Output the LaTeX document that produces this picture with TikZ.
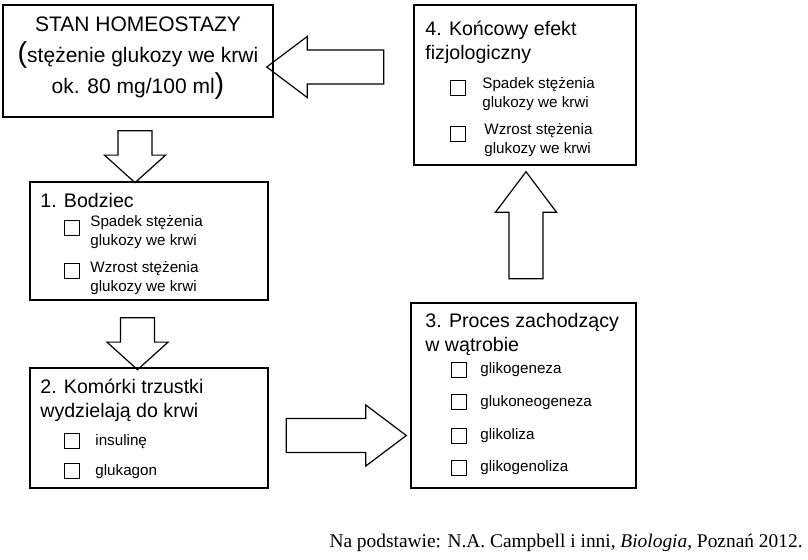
\documentclass[tikz,border=0pt]{standalone}
\usepackage{fontspec}
\setmainfont{Liberation Sans}
\newfontfamily\citefont{Liberation Serif}
\usetikzlibrary{shapes.arrows}
\usetikzlibrary{positioning}

\tikzset{
  box/.style = {draw,line width=0.6pt},
  bigtxt/.style = {inner sep=0pt,font=\fontsize{9.8}{12}\selectfont,align=left},
  smalltxt/.style = {inner sep=0pt,font=\fontsize{7.6}{9.3}\selectfont,align=left,anchor=west},
  chk/.style = {draw,line width=0.5pt,minimum size=7.2pt,inner sep=0pt},
  blk/.style = {single arrow,draw,line width=0.6pt,inner sep=8.2pt,
                single arrow tip angle=74,single arrow head extend=6.8pt}
}

\begin{document}
\begin{tikzpicture}[x=0.5pt,y=-0.5pt]
\useasboundingbox (0,0) rectangle (808,559);

% ramki
\draw[box,line width=1.4pt] (3,5) rectangle (273,117);
\draw[box] (414,5) rectangle (636,165);
\draw[box] (30,182) rectangle (268,300);
\draw[box] (30,368) rectangle (268,488);
\draw[box] (411,303) rectangle (636,488);

% stan homeostazy
\node[bigtxt,font=\fontsize{10.5}{13}\selectfont] (stan) at (138,24) {STAN HOMEOSTAZY};
\node[bigtxt,font=\fontsize{10.5}{13}\selectfont] (stan2) at (138,55) {{\Large(}stężenie glukozy we krwi};
\node[bigtxt,font=\fontsize{10.5}{13}\selectfont] (stan3) at (138,86) {ok. 80 mg/100 ml{\Large)}};

% 4. efekt
\node[bigtxt,anchor=north west] (efekt) at (425,21) {4. Końcowy efekt\\fizjologiczny};
\node[chk] (e1) at (458,88) {};
\node[smalltxt] (e1t) at (482,94) {Spadek stężenia\\glukozy we krwi};
\node[chk] (e2) at (458,134) {};
\node[smalltxt] (e2t) at (484,140) {Wzrost stężenia\\glukozy we krwi};

% 1. bodziec
\node[bigtxt,anchor=north west] (bodziec) at (40,193) {1. Bodziec};
\node[chk] (b1) at (72,228) {};
\node[smalltxt] (b1t) at (90,232) {Spadek stężenia\\glukozy we krwi};
\node[chk] (b2) at (72,271) {};
\node[smalltxt] (b2t) at (90,278) {Wzrost stężenia\\glukozy we krwi};

% 2. trzustka
\node[bigtxt,anchor=north west] (trzustka) at (40,379) {2. Komórki trzustki\\wydzielają do krwi};
\node[chk] (t1) at (72,441) {};
\node[smalltxt] (t1t) at (95,442) {insulinę};
\node[chk] (t2) at (72,471) {};
\node[smalltxt] (t2t) at (95,472) {glukagon};

% 3. watroba
\node[bigtxt,anchor=north west] (proces) at (425,313) {3. Proces zachodzący\\w wątrobie};
\node[chk] (p1) at (459,370) {};
\node[smalltxt] (p1t) at (480,370) {glikogeneza};
\node[chk] (p2) at (459,402) {};
\node[smalltxt] (p2t) at (480,403) {glukoneogeneza};
\node[chk] (p3) at (459,436) {};
\node[smalltxt] (p3t) at (480,436) {glikoliza};
\node[chk] (p4) at (459,468) {};
\node[smalltxt] (p4t) at (480,468) {glikogenoliza};

% strzalki
\node[blk,minimum height=58.5pt,minimum width=30pt,shape border rotate=180] (aL) at (336.5,67) {};
\node[blk,single arrow tip angle=96,minimum height=26pt,minimum width=30pt,shape border rotate=270] (aD1) at (135,149) {};
\node[blk,single arrow tip angle=96,minimum height=26pt,minimum width=30pt,shape border rotate=270] (aD2) at (137.5,336) {};
\node[blk,minimum height=60pt,minimum width=30.5pt] (aR) at (335,435.5) {};
\node[blk,minimum height=53.5pt,minimum width=29pt,shape border rotate=90] (aU) at (526,236.5) {};

% zrodlo
\node[inner sep=0pt,anchor=east,font=\citefont\fontsize{9.7}{11}\selectfont] (zrodlo) at (803,543)
  {Na podstawie: N.A. Campbell i inni, \textit{Biologia}, Poznań 2012.};
\end{tikzpicture}
\end{document}
